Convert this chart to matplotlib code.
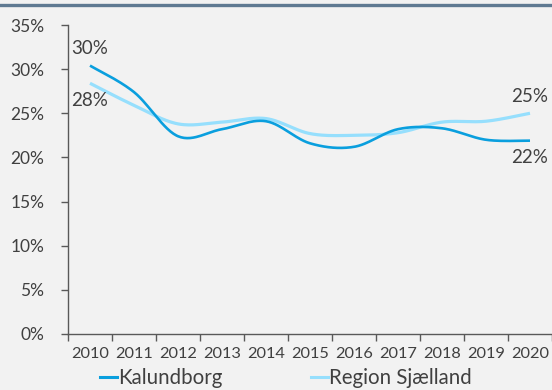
import numpy as np
import matplotlib
matplotlib.use("Agg")
import matplotlib.pyplot as plt
from matplotlib.lines import Line2D

# Share of population (%), by year
years = ["2010", "2011", "2012", "2013", "2014", "2015", "2016", "2017", "2018", "2019", "2020"]
kalundborg = [30.4, 27.4, 22.4, 23.2, 24.1, 21.6, 21.2, 23.2, 23.3, 22.0, 21.9]
region_sjaelland = [28.4, 25.9, 23.8, 24.0, 24.4, 22.7, 22.5, 22.8, 24.0, 24.1, 25.0]
series_names = ["Kalundborg", "Region Sjælland"]
y_ticks = [0, 5, 10, 15, 20, 25, 30, 35]

BG = "#f2f2f2"
DARK = "#0a9fde"
LIGHT = "#96dffd"
TXT = "#404040"
AX = "#595959"

plt.rcParams["font.family"] = ["Lato", "DejaVu Sans"]


def smooth(xs, ys, n=30):
    """Catmull-Rom style smoothing through every point (Bezier form)."""
    xs = np.asarray(xs, float)
    ys = np.asarray(ys, float)
    px = np.concatenate([[xs[0]], xs, [xs[-1]]])
    py = np.concatenate([[ys[0]], ys, [ys[-1]]])
    out_x, out_y = [], []
    t = np.linspace(0, 1, n)
    for i in range(1, len(px) - 2):
        p0 = np.array([px[i], py[i]])
        p3 = np.array([px[i + 1], py[i + 1]])
        c1 = p0 + (np.array([px[i + 1], py[i + 1]]) - np.array([px[i - 1], py[i - 1]])) / 6
        c2 = p3 - (np.array([px[i + 2], py[i + 2]]) - np.array([px[i], py[i]])) / 6
        b = ((1 - t) ** 3)[:, None] * p0 + (3 * (1 - t) ** 2 * t)[:, None] * c1 \
            + (3 * (1 - t) * t ** 2)[:, None] * c2 + (t ** 3)[:, None] * p3
        out_x.extend(b[:, 0])
        out_y.extend(b[:, 1])
    return np.array(out_x), np.array(out_y)


fig = plt.figure(figsize=(5.52, 3.90), dpi=100, facecolor=BG)
ax = fig.add_axes([68 / 552, 56 / 390, 484 / 552, 309 / 390], facecolor=BG)

x = np.arange(len(years))
sx, sy = smooth(x, region_sjaelland)
ax.plot(sx, sy, color=LIGHT, lw=2.3, solid_capstyle="butt", zorder=3)
sx, sy = smooth(x, kalundborg)
ax.plot(sx, sy, color=DARK, lw=1.9, solid_capstyle="butt", zorder=4)

ax.set_xlim(-0.5, len(years) - 0.5)
ax.set_ylim(0, 35)

ax.set_xticks(x)
ax.set_xticklabels(years)
ax.set_xticks(np.arange(-0.5, len(years), 1.0), minor=True)
ax.tick_params(axis="x", which="major", length=0, pad=9, labelsize=11.8, labelcolor=TXT)
ax.tick_params(axis="x", which="minor", length=5, width=1, color=AX, direction="out")

ax.set_yticks(y_ticks)
ax.set_yticklabels([f"{v}%" for v in y_ticks])
ax.tick_params(axis="y", length=5, width=1, color=AX, pad=12, labelsize=12.5, labelcolor=TXT)

for side in ["top", "right"]:
    ax.spines[side].set_visible(False)
for side in ["left", "bottom"]:
    ax.spines[side].set_color(AX)
    ax.spines[side].set_linewidth(1)
ax.spines["left"].set_bounds(0, 35)

# end-point value labels
lab_kw = dict(ha="center", fontsize=13.5, color=TXT, zorder=5)
ax.annotate(f"{kalundborg[0]:.0f}%", (x[0], kalundborg[0]), xytext=(0, 6),
            textcoords="offset points", va="bottom", **lab_kw)
ax.annotate(f"{region_sjaelland[0]:.0f}%", (x[0], region_sjaelland[0]), xytext=(0, -6),
            textcoords="offset points", va="top", **lab_kw)
ax.annotate(f"{region_sjaelland[-1]:.0f}%", (x[-1], region_sjaelland[-1]), xytext=(0, 6),
            textcoords="offset points", va="bottom", **lab_kw)
ax.annotate(f"{kalundborg[-1]:.0f}%", (x[-1], kalundborg[-1]), xytext=(0, -6),
            textcoords="offset points", va="top", **lab_kw)

# header rule
fig.add_artist(Line2D([0, 1], [1 - 5 / 390, 1 - 5 / 390], transform=fig.transFigure,
                      color="#5f7a92", lw=2.4))

handles = [Line2D([], [], color=DARK, lw=2.2), Line2D([], [], color=LIGHT, lw=2.2)]
fig.legend(handles, series_names, loc="center", bbox_to_anchor=(286 / 552, 1 - 378.5 / 390),
           ncol=2, frameon=False, handlelength=0.83, handletextpad=0.05,
           columnspacing=4.3, fontsize=14.8, labelcolor=TXT, borderaxespad=0,
           borderpad=0)

fig.savefig("out.png", dpi=100, facecolor=BG)
